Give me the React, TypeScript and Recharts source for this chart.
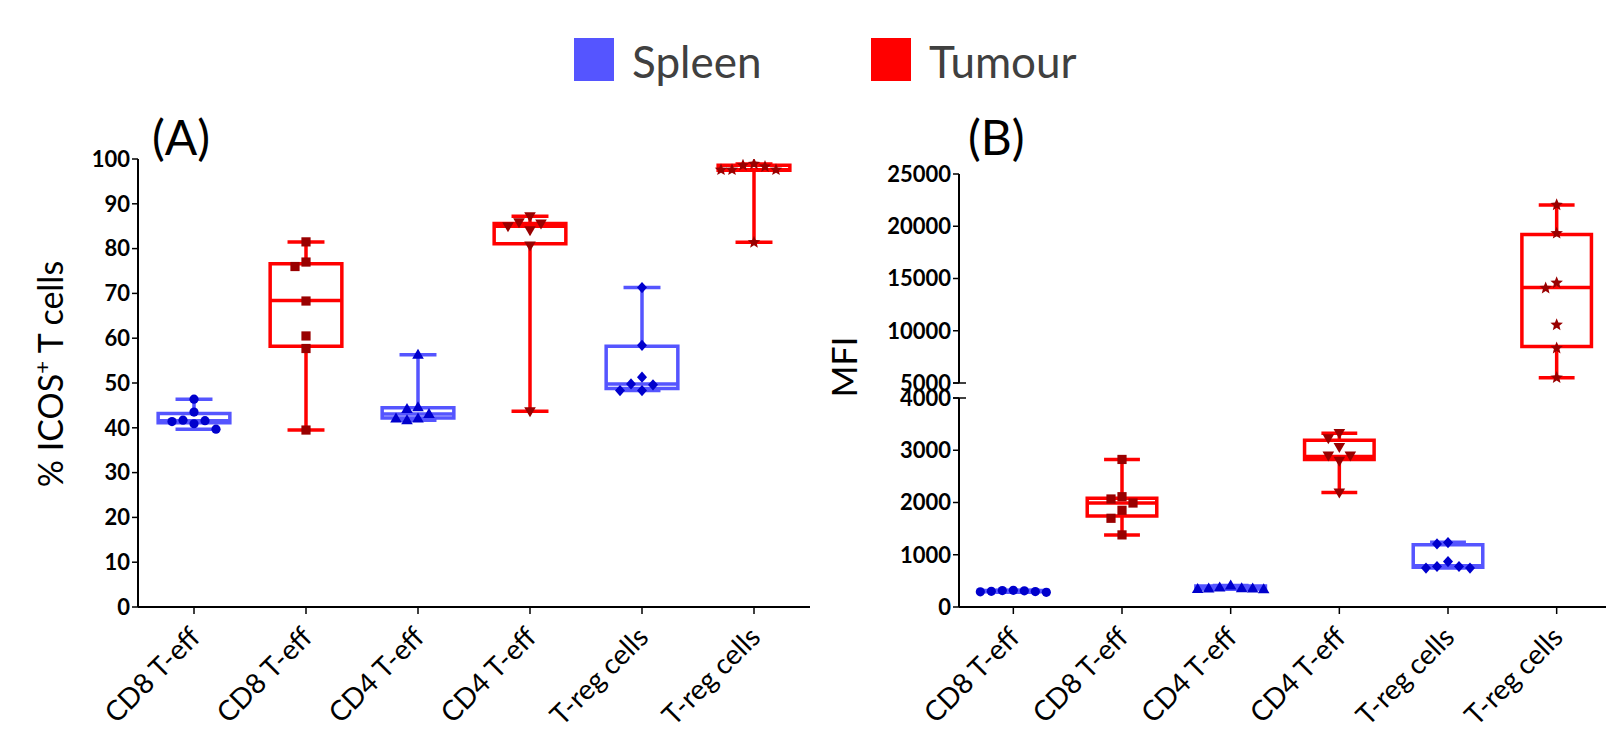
import React from 'react'
import {
  Label,
  ReferenceArea,
  ReferenceLine,
  Scatter,
  ScatterChart,
  XAxis,
  YAxis,
} from 'recharts'

// groups, left to right (same order in both panels)
const categories = ['CD8 T-eff', 'CD8 T-eff', 'CD4 T-eff', 'CD4 T-eff', 'T-reg cells', 'T-reg cells']
const tissues = ['Spleen', 'Tumour', 'Spleen', 'Tumour', 'Spleen', 'Tumour']
const markers = ['circle', 'square', 'triangle', 'invTriangle', 'diamond', 'star']

// (A) % ICOS+ T cells
const icosTicks = [0, 10, 20, 30, 40, 50, 60, 70, 80, 90, 100]
const icosPoints = [
  [46.4, 43.5, 41.7, 41.4, 40.9, 41.6, 39.7],
  [81.5, 77.0, 76.0, 68.3, 60.5, 57.7, 39.5],
  [56.3, 44.6, 44.2, 43.1, 42.1, 41.7, 42.1],
  [87.2, 85.9, 85.6, 85.0, 84.1, 80.7, 43.7],
  [71.3, 58.4, 51.3, 49.8, 49.6, 48.3, 48.3],
  [98.9, 98.6, 98.3, 97.6, 97.6, 97.6, 81.4],
]
const icosMin = [39.7, 39.5, 41.7, 43.7, 48.3, 81.4]
const icosQ1 = [41.1, 58.2, 42.2, 81.1, 48.8, 97.5]
const icosMedian = [41.6, 68.4, 43.1, 85.0, 49.8, 97.6]
const icosQ3 = [43.2, 76.6, 44.5, 85.6, 58.2, 98.6]
const icosMax = [46.4, 81.5, 56.3, 87.2, 71.3, 98.9]

// (B) MFI, broken axis
const mfiTicksLow = [0, 1000, 2000, 3000, 4000]
const mfiTicksHigh = [5000, 10000, 15000, 20000, 25000]
const mfiPoints = [
  [320, 315, 310, 300, 295, 290, 280],
  [2824, 2111, 2067, 1990, 1851, 1698, 1380],
  [410, 375, 360, 355, 355, 345, 340],
  [3330, 3230, 3060, 2900, 2900, 2800, 2190],
  [1233, 1208, 870, 775, 775, 745, 745],
  [22040, 19330, 14580, 14080, 10570, 8340, 5510],
]
const mfiMin = [280, 1380, 340, 2190, 745, 5510]
const mfiQ1 = [290, 1742, 345, 2824, 760, 8500]
const mfiMedian = [300, 1990, 355, 2880, 790, 14130]
const mfiQ3 = [315, 2080, 400, 3193, 1190, 19200]
const mfiMax = [320, 2824, 410, 3326, 1240, 22040]

const COLORS: Record<string, { box: string; dot: string }> = {
  Spleen: { box: '#5555ff', dot: '#0000cc' },
  Tumour: { box: '#ff0000', dot: '#990000' },
}

const BOX_HALF = 0.32
const CAP_HALF = 0.165
const STROKE = 3.5

// simple beeswarm: spread points that would overlap sideways
const swarm = (vals: number[], pxPerUnit: number, stepPx = 11, diam = 10) => {
  const placed: { x: number; y: number }[] = []
  const slots = new Array(vals.length).fill(0)
  const order = vals.map((_, i) => i).sort((a, b) => vals[b] - vals[a])
  for (const i of order) {
    const y = vals[i] * pxPerUnit
    for (let k = 0; k < 15; k++) {
      const slot = k === 0 ? 0 : k % 2 === 1 ? -Math.ceil(k / 2) : Math.ceil(k / 2)
      const x = slot * stepPx
      if (placed.every((p) => Math.hypot(p.x - x, p.y - y) >= diam)) {
        slots[i] = x
        placed.push({ x, y })
        break
      }
    }
  }
  return slots
}

const Marker = ({ cx, cy, kind, fill }: any) => {
  if (cx == null || cy == null) return null
  switch (kind) {
    case 'circle':
      return <circle cx={cx} cy={cy} r={4.6} fill={fill} />
    case 'square':
      return <rect x={cx - 4.6} y={cy - 4.6} width={9.2} height={9.2} fill={fill} />
    case 'triangle':
      return <polygon points={`${cx},${cy - 6} ${cx - 5.8},${cy + 4} ${cx + 5.8},${cy + 4}`} fill={fill} />
    case 'invTriangle':
      return <polygon points={`${cx},${cy + 6} ${cx - 5.8},${cy - 4} ${cx + 5.8},${cy - 4}`} fill={fill} />
    case 'diamond':
      return <polygon points={`${cx},${cy - 5.6} ${cx + 5},${cy} ${cx},${cy + 5.6} ${cx - 5},${cy}`} fill={fill} />
    default: {
      const pts: string[] = []
      for (let k = 0; k < 10; k++) {
        const r = k % 2 === 0 ? 6.6 : 2.9
        const a = -Math.PI / 2 + (k * Math.PI) / 5
        pts.push(`${cx + r * Math.cos(a)},${cy + r * Math.sin(a)}`)
      }
      return <polygon points={pts.join(' ')} fill={fill} />
    }
  }
}

const CategoryTick = ({ x, y, payload }: any) => {
  const ax = x + 8
  const ay = y + 23
  return (
    <text
      x={ax}
      y={ay}
      transform={`rotate(-45 ${ax} ${ay})`}
      textAnchor="end"
      fontSize={28}
      fill="#000"
    >
      {categories[Math.floor(payload.value)]}
    </text>
  )
}

const H = 741

interface BoxChartProps {
  left: number
  width: number
  yAxisWidth: number
  plotTop: number
  plotBottom: number
  domain: [number, number]
  ticks: number[]
  points: number[][]
  mins: number[]
  q1s: number[]
  medians: number[]
  q3s: number[]
  maxs: number[]
  showX: boolean
  title?: React.ReactNode
}

const BoxChart = (p: BoxChartProps) => {
  const pxPerUnit = (p.plotBottom - p.plotTop) / (p.domain[1] - p.domain[0])
  const band = (p.width - p.yAxisWidth) / 6
  const inRange = (g: number) => p.mins[g] >= p.domain[0] && p.maxs[g] <= p.domain[1]
  const groups = categories.map((_, g) => g).filter(inRange)

  const marks: React.ReactNode[] = []
  groups.forEach((g) => {
    const c = g + 0.5
    const col = COLORS[tissues[g]].box
    const line = (key: string, x1: number, y1: number, x2: number, y2: number) => (
      <ReferenceLine
        key={`${key}-${g}`}
        segment={[{ x: x1, y: y1 }, { x: x2, y: y2 }]}
        stroke={col}
        strokeWidth={STROKE}
        ifOverflow="visible"
      />
    )
    marks.push(
      <ReferenceArea
        key={`box-${g}`}
        x1={c - BOX_HALF}
        x2={c + BOX_HALF}
        y1={p.q1s[g]}
        y2={p.q3s[g]}
        fill="none"
        fillOpacity={0}
        stroke={col}
        strokeWidth={STROKE}
        strokeOpacity={1}
        ifOverflow="visible"
      />
    )
    marks.push(line('med', c - BOX_HALF, p.medians[g], c + BOX_HALF, p.medians[g]))
    marks.push(line('wu', c, p.q3s[g], c, p.maxs[g]))
    marks.push(line('wl', c, p.mins[g], c, p.q1s[g]))
    marks.push(line('cu', c - CAP_HALF, p.maxs[g], c + CAP_HALF, p.maxs[g]))
    marks.push(line('cl', c - CAP_HALF, p.mins[g], c + CAP_HALF, p.mins[g]))
  })

  return (
    <div style={{ position: 'absolute', left: p.left, top: 0 }}>
      <ScatterChart
        width={p.width}
        height={H}
        margin={{ top: p.plotTop, right: 0, bottom: p.showX ? 0 : H - p.plotBottom, left: 0 }}
      >
        <XAxis
          type="number"
          dataKey="x"
          domain={[0, 6]}
          ticks={[0.5, 1.5, 2.5, 3.5, 4.5, 5.5]}
          interval={0}
          hide={!p.showX}
          height={H - p.plotBottom}
          tick={<CategoryTick />}
          tickSize={7}
          axisLine={{ stroke: '#000', strokeWidth: 2 }}
          tickLine={{ stroke: '#000', strokeWidth: 1.5 }}
          allowDataOverflow
        />
        <YAxis
          type="number"
          dataKey="y"
          domain={p.domain}
          ticks={p.ticks}
          interval={0}
          width={p.yAxisWidth}
          tick={{ fill: '#000', fontSize: 22, fontWeight: 700 }}
          tickSize={6}
          tickMargin={2}
          axisLine={{ stroke: '#000', strokeWidth: 2 }}
          tickLine={{ stroke: '#000', strokeWidth: 1.5 }}
          allowDataOverflow
        >
          {p.title ? <Label content={() => p.title} /> : null}
        </YAxis>
        {marks}
        {groups.map((g) => {
          const offs = swarm(p.points[g], pxPerUnit)
          const data = p.points[g].map((v, i) => ({ x: g + 0.5 + offs[i] / band, y: v }))
          const fill = COLORS[tissues[g]].dot
          return (
            <Scatter
              key={`pts-${g}`}
              data={data}
              dataKey="y"
              isAnimationActive={false}
              shape={(s: any) => <Marker cx={s.cx} cy={s.cy} kind={markers[g]} fill={fill} />}
            />
          )
        })}
      </ScatterChart>
    </div>
  )
}

const icosTitle = (
  <text transform="translate(63 374) rotate(-90)" textAnchor="middle" fontSize={34} fill="#000">
    % ICOS<tspan dy={-13} fontSize={22}>+</tspan>
    <tspan dy={13}> T cells</tspan>
  </text>
)

// panel B charts start at x = 800, so the title sits at page x 857
const mfiTitle = (
  <text transform="translate(57 367) rotate(-90)" textAnchor="middle" fontSize={34} fill="#000">
    MFI
  </text>
)

export default function App() {
  return (
    <div
      style={{
        position: 'fixed',
        left: 0,
        top: 0,
        width: 1606,
        height: H,
        overflow: 'hidden',
        background: '#fff',
        fontFamily: 'Lato, "Open Sans", sans-serif',
      }}
    >
      <BoxChart
        left={0}
        width={810}
        yAxisWidth={138}
        plotTop={159}
        plotBottom={607}
        domain={[0, 100]}
        ticks={icosTicks}
        points={icosPoints}
        mins={icosMin}
        q1s={icosQ1}
        medians={icosMedian}
        q3s={icosQ3}
        maxs={icosMax}
        showX
        title={icosTitle}
      />
      <BoxChart
        left={800}
        width={811}
        yAxisWidth={159}
        plotTop={174}
        plotBottom={383}
        domain={[5000, 25000]}
        ticks={mfiTicksHigh}
        points={mfiPoints}
        mins={mfiMin}
        q1s={mfiQ1}
        medians={mfiMedian}
        q3s={mfiQ3}
        maxs={mfiMax}
        showX={false}
      />
      <BoxChart
        left={800}
        width={811}
        yAxisWidth={159}
        plotTop={398}
        plotBottom={607}
        domain={[0, 4000]}
        ticks={mfiTicksLow}
        points={mfiPoints}
        mins={mfiMin}
        q1s={mfiQ1}
        medians={mfiMedian}
        q3s={mfiQ3}
        maxs={mfiMax}
        showX
        title={mfiTitle}
      />
      <svg
        width={1606}
        height={H}
        style={{ position: 'absolute', left: 0, top: 0, pointerEvents: 'none' }}
      >
        <rect x={574} y={38} width={40} height={43} fill={COLORS.Spleen.box} />
        <text x={632} y={78} fontSize={44} fill="#404040">Spleen</text>
        <rect x={871} y={38} width={40} height={43} fill={COLORS.Tumour.box} />
        <text x={929} y={78} fontSize={44} fill="#404040">Tumour</text>
        <text x={152} y={155} fontSize={48} fill="#000">(A)</text>
        <text x={968} y={155} fontSize={48} fill="#000">(B)</text>
        {/* axis break marks */}
        <line x1={953} x2={966} y1={383} y2={383} stroke="#000" strokeWidth={1.5} />
        <line x1={953} x2={966} y1={398} y2={398} stroke="#000" strokeWidth={1.5} />
      </svg>
    </div>
  )
}
